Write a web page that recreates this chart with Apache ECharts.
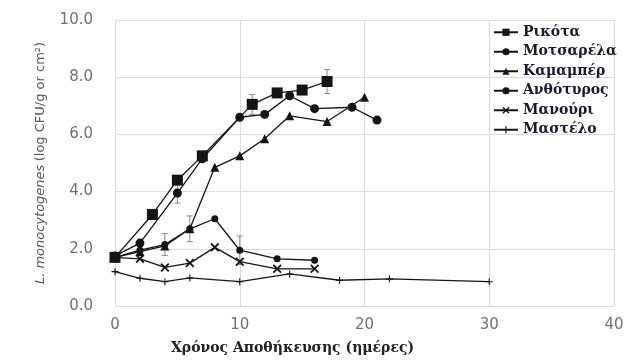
<!DOCTYPE html>
<html><head><meta charset="utf-8">
<script src="https://cdn.jsdelivr.net/npm/echarts@6/dist/echarts.min.js"></script>
<style>html,body{margin:0;padding:0;background:#fff}#c{width:628px;height:361px}</style>
</head><body><div id="c"></div>
<script>
const seriesNames = ['Ρικότα','Μοτσαρέλα','Καμαμπέρ','Ανθότυρος','Μανούρι','Μαστέλο'];
const ricottaDays = [0,3,5,7,11,13,15,17];
const ricottaVals = [1.7,3.2,4.4,5.25,7.05,7.45,7.55,7.85];
const mozzDays = [0,2,5,7,10,12,14,16,19,21];
const mozzVals = [1.75,2.2,3.95,5.15,6.6,6.7,7.35,6.9,6.95,6.5];
const camDays = [0,2,4,6,8,10,12,14,17,20];
const camVals = [1.7,1.9,2.1,2.7,4.85,5.25,5.85,6.65,6.45,7.3];
const anthDays = [0,2,4,6,8,10,13,16];
const anthVals = [1.7,1.95,2.15,2.7,3.05,1.95,1.65,1.6];
const manDays = [0,2,4,6,8,10,13,16];
const manVals = [1.7,1.65,1.35,1.5,2.05,1.55,1.3,1.3];
const mastDays = [0,2,4,6,10,14,18,22,30];
const mastVals = [1.2,0.97,0.85,0.98,0.85,1.12,0.9,0.95,0.85];
// error bars: day, value, half-width
const errDays = [17,11,5,4,6,10];
const errVals = [7.85,7.05,3.95,2.15,2.7,1.95];
const errSize = [0.42,0.35,0.35,0.38,0.45,0.5];
const xTicks = [0,10,20,30,40];
const yTicks = [0,2,4,6,8,10];

const pair = (d,v)=>d.map((x,i)=>[x,v[i]]);
const X_PATH = 'path://M0,1.4L1.4,0L5,3.6L8.6,0L10,1.4L6.4,5L10,8.6L8.6,10L5,6.4L1.4,10L0,8.6L3.6,5Z';
const PLUS_PATH = 'path://M4.2,0H5.8V4.2H10V5.8H5.8V10H4.2V5.8H0V4.2H4.2Z';
const ink = '#151515';
function mk(name, d, v, symbol, size){
  return {name, type:'line', data:pair(d,v), symbol, symbolSize:size,
    lineStyle:{color:ink,width:1.3}, itemStyle:{color:ink}, z:3, animation:false};
}
const chart = echarts.init(document.getElementById('c'));
chart.setOption({
  animation:false,
  grid:{left:115,right:14,top:20,bottom:55},
  xAxis:{type:'value',min:xTicks[0],max:xTicks[xTicks.length-1],interval:10,
    axisLine:{show:false},axisTick:{show:false},
    splitLine:{lineStyle:{color:'#dcdcdc',width:1}},
    axisLabel:{color:'#707070',fontFamily:'DejaVu Sans',fontSize:15,margin:12},
    name:'Χρόνος Αποθήκευσης (ημέρες)',nameLocation:'middle',nameGap:35,
    nameTextStyle:{fontFamily:'DejaVu Serif',fontWeight:'bold',fontSize:14,color:'#222',padding:[0,144,0,0]}},
  yAxis:{type:'value',min:yTicks[0],max:yTicks[yTicks.length-1],interval:2,
    axisLine:{show:false},axisTick:{show:false},
    splitLine:{lineStyle:{color:'#dcdcdc',width:1}},
    axisLabel:{color:'#707070',fontFamily:'DejaVu Sans',fontSize:15,margin:22,formatter:v=>v.toFixed(1)},
    name:'{i|L. monocytogenes} {n|(log CFU/g or cm²)}',nameLocation:'middle',nameRotate:90,nameGap:68,
    nameTextStyle:{rich:{i:{fontStyle:'italic',fontFamily:'DejaVu Sans',fontSize:13,color:'#555'},
                         n:{fontFamily:'DejaVu Sans',fontSize:13,color:'#555'}}}},
  legend:{data:seriesNames,orient:'vertical',left:488,top:20,itemWidth:24,itemHeight:9,itemGap:5,
    textStyle:{fontFamily:'DejaVu Serif',fontWeight:'bold',fontSize:14,color:'#1a1a2a',lineHeight:14.5}},
  series:[
    mk(seriesNames[0],ricottaDays,ricottaVals,'rect',11),
    mk(seriesNames[1],mozzDays,mozzVals,'circle',9),
    mk(seriesNames[2],camDays,camVals,'triangle',9),
    mk(seriesNames[3],anthDays,anthVals,'circle',7),
    mk(seriesNames[4],manDays,manVals,X_PATH,9),
    mk(seriesNames[5],mastDays,mastVals,PLUS_PATH,7),
    {name:'err',type:'custom',z:2,data:errDays.map((d,i)=>[d,errVals[i]-errSize[i],errVals[i]+errSize[i]]),
     renderItem:(params,api)=>{
       const lo=api.coord([api.value(0),api.value(1)]), hi=api.coord([api.value(0),api.value(2)]);
       const st={stroke:'#8a8a8a',lineWidth:1};
       return {type:'group',children:[
         {type:'line',shape:{x1:lo[0],y1:lo[1],x2:hi[0],y2:hi[1]},style:st},
         {type:'line',shape:{x1:lo[0]-3,y1:lo[1],x2:lo[0]+3,y2:lo[1]},style:st},
         {type:'line',shape:{x1:hi[0]-3,y1:hi[1],x2:hi[0]+3,y2:hi[1]},style:st}]};
     }}
  ]
});
</script></body></html>
